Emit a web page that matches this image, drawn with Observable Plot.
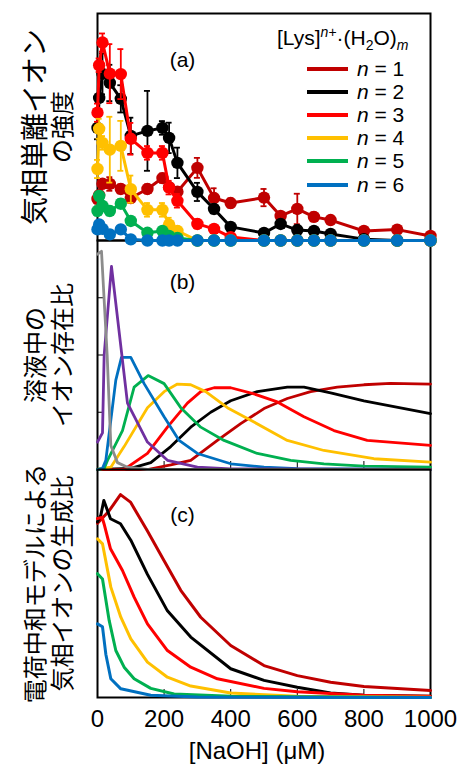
<!DOCTYPE html>
<html><head><meta charset="utf-8">
<script src="https://cdn.jsdelivr.net/npm/d3@7"></script>
<script src="https://cdn.jsdelivr.net/npm/@observablehq/plot@0.6"></script>
<style>
body{margin:0;background:#fff;}
#chart{position:relative;width:463px;height:767px;font-family:"Liberation Sans",Arial,sans-serif;}
#chart svg{position:absolute;left:0;overflow:visible;}
.leg{position:absolute;font-size:21px;color:#000;white-space:nowrap;line-height:21px;}
.sw{position:absolute;height:4px;}
</style></head><body><div id="chart"></div>
<script>
// ---------- shared ----------
const seriesNames = ["1","2","3","4","5","6"];
const seriesColors = ["#C00000","#000000","#FF0000","#FFC000","#00B050","#0070C0"];
const color7 = "#7030A0";
const color8 = "#8C8C8C";
const xTicks = [0,200,400,600,800,1000];
const xLabel = "[NaOH] (μM)";
const yLabelA1 = "気相単離イオン";
const yLabelA2 = "の強度";
const yLabelB = "溶液中の\nイオン存在比";
const yLabelC = "電荷中和モデルによる\n気相イオンの生成比";
const yTicksB = [0.25,0.5,0.75];

// ---------- panel (a): measured intensity ----------
const concA = [0,5,15,37,70,100,150,195,215,240,300,350,400,500,550,600,650,700,800,900,1000];
const a1 = [18.3,20,25,24.9,22.7,18.7,22.7,27.5,23.5,21.5,32,18.7,16.5,18.9,10.8,13.9,10.4,9.0,4.2,4.8,2.0];
const a2 = [49.6,62.8,73.4,69.4,62.4,46.1,48.3,49.6,45.2,34.2,21.4,13.9,6.0,3.3,7.3,4.6,4.2,2.9,0.6,0,0];
const a3 = [56.3,77.2,87.2,73.5,73.3,44.8,38.6,38.6,23.3,17.5,7.3,5.1,1.5,0,0,0,0,0,0,0,0];
const a4 = [31.5,49.2,43,40,41.7,22.6,13.5,13.5,7,4.2,0,0,0,0,0,0,0,0,0,0,0];
const a5 = [13.0,19.6,15.2,13.0,16.2,8.6,3.4,4.2,2.0,1.1,0,0,0,0,0,0,0,0,0,0,0];
const a6 = [4.9,7.1,5.1,2.7,4.9,0.5,0,0,0,0,0,0,0,0,0,0,0,0,0,0,0];
const e1 = [2,0,2,3,2,2,2,2,2,0,4.4,4.3,2,3.8,1.5,6.7,2,1.5,1,1,1];
const e2 = [5,0,9,8,6,8,17.6,3,6.7,6.7,4,2,1.5,1,1.5,1,1,0.5,0,0,0];
const e3 = [4,3,4,13,11,7,3,3,3,3,2,1,0.5,0,0,0,0,0,0,0,0];
const e4 = [4,4.4,3,14.5,11,6,3,3,3,2,0,0,0,0,0,0,0,0,0,0,0];
const e5 = [2,2,2,2,2,1.5,1,1,1,0.5,0,0,0,0,0,0,0,0,0,0,0];
const e6 = [1,1,1,1,1,0.5,0,0,0,0,0,0,0,0,0,0,0,0,0,0,0];

// ---------- panel (b): solution abundance ----------
const b1x = [0,150,220,280,360,430,500,570,640,720,800,880,1000];
const b1y = [0,0,0.02,0.04,0.127,0.2,0.266,0.31,0.34,0.36,0.37,0.376,0.373];
const b2x = [0,100,160,220,280,340,400,480,570,620,700,800,1000];
const b2y = [0,0.005,0.03,0.1,0.185,0.25,0.3,0.34,0.36,0.36,0.335,0.3,0.244];
const b3x = [0,80,150,210,270,310,350,400,470,540,620,710,810,1000];
const b3y = [0,0,0.07,0.185,0.29,0.34,0.357,0.357,0.33,0.295,0.23,0.17,0.127,0.105];
const b4x = [0,40,80,150,200,240,280,325,390,470,570,680,830,1000];
const b4y = [0,0.01,0.1,0.27,0.34,0.373,0.37,0.34,0.27,0.207,0.127,0.083,0.047,0.032];
const b5x = [0,20,30,75,110,152,200,250,310,380,480,580,680,800,1000];
const b5y = [0,0.005,0.04,0.17,0.36,0.41,0.375,0.27,0.185,0.127,0.07,0.04,0.025,0.015,0.01];
const b6x = [0,15,25,55,72,100,140,200,245,300,400,500,600,1000];
const b6y = [0,0.005,0.04,0.39,0.49,0.49,0.375,0.23,0.127,0.07,0.025,0.01,0.004,0];
const b7x = [0,15,20,42,90,150,210,300,400,1000];
const b7y = [0.12,0.16,0.5,0.887,0.29,0.12,0.04,0.01,0.003,0];
const b8x = [0,12,29,40,60,90,150,1000];
const b8y = [0.94,0.953,0.5,0.105,0.03,0.01,0,0];

// ---------- panel (c): charge-neutralization model ----------
const c1x = [0,34,69,99,150,200,250,310,400,500,600,700,800,1000];
const c1y = [0.764,0.817,0.89,0.857,0.73,0.6,0.47,0.352,0.228,0.14,0.096,0.067,0.048,0.031];
const c2x = [0,10,19,39,69,100,150,210,280,400,500,600,700,800,1000];
const c2y = [0.77,0.8,0.864,0.784,0.762,0.69,0.54,0.38,0.265,0.126,0.075,0.045,0.02,0.01,0.005];
const c3x = [0,14,20,39,75,110,150,210,280,360,500,600,800,1000];
const c3y = [0.785,0.79,0.76,0.652,0.557,0.44,0.323,0.206,0.133,0.082,0.04,0.025,0.01,0.005];
const c4x = [0,15,40,70,100,150,210,280,400,600,1000];
const c4y = [0.696,0.674,0.484,0.352,0.257,0.155,0.089,0.05,0.02,0.005,0.001];
const c5x = [0,15,35,55,80,110,160,230,400,1000];
const c5y = [0.543,0.52,0.338,0.206,0.133,0.082,0.04,0.015,0.005,0];
const c6x = [0,15,25,40,70,160,300,1000];
const c6y = [0.323,0.31,0.19,0.082,0.038,0.01,0.002,0];

// ---------- helpers ----------
const rows = (xs, ys, es) => xs.map((x, i) => ({x, y: ys[i], e: es ? es[i] : 0}));
const FONT = "Liberation Sans, Arial, sans-serif";
const JP = "Noto Sans CJK JP, sans-serif";
const W = 463, ML = 97, MR = 33;

function frameMarks() {
  return [
    Plot.frame({stroke: "black", strokeWidth: 2}),
    Plot.axisX(xTicks, {tickSize: -8, tickFormat: () => "", label: null, stroke: "black", strokeWidth: 1})
  ];
}
function yTitle(label, dx = -48.5, fontSize = 24) {
  return Plot.text([label], {frameAnchor: "left", dx, rotate: -90, textAnchor: "middle", lineAnchor: "middle",
    fontSize, lineHeight: 1.12, fontFamily: JP, fill: "black"});
}
function panelTag(tag, dy) {
  return Plot.text([tag], {frameAnchor: "top-left", dx: 85, dy, textAnchor: "middle", lineAnchor: "middle",
    fontSize: 21, fontFamily: FONT, fill: "black"});
}

const chart = document.getElementById("chart");

// panel (b)
const bSeries = [[b1x,b1y,seriesColors[0]],[b2x,b2y,seriesColors[1]],[b3x,b3y,seriesColors[2]],[b4x,b4y,seriesColors[3]],
  [b5x,b5y,seriesColors[4]],[b6x,b6y,seriesColors[5]],[b7x,b7y,color7],[b8x,b8y,color8]];
const plotB = Plot.plot({
  width: W, height: 229, marginLeft: ML, marginRight: MR, marginTop: 0, marginBottom: 0,
  x: {domain: [0,1000], axis: null}, y: {domain: [0,1], axis: null},
  style: {overflow: "visible", fontFamily: FONT, background: "transparent"},
  marks: [
    ...frameMarks(),
    Plot.axisY(yTicksB, {tickSize: -6, tickFormat: () => "", label: null, stroke: "black", strokeWidth: 1}),
    ...bSeries.map(([xs, ys, c]) => Plot.line(rows(xs, ys), {x: "x", y: "y", stroke: c, strokeWidth: 2.8, strokeLinejoin: "round"})),
    panelTag("(b)", 42),
    yTitle(yLabelB)
  ]
});
plotB.style.top = "240px";
chart.appendChild(plotB);

// panel (c)
const cSeries = [[c1x,c1y],[c2x,c2y],[c3x,c3y],[c4x,c4y],[c5x,c5y],[c6x,c6y]];
const plotC = Plot.plot({
  width: W, height: 298, marginLeft: ML, marginRight: MR, marginTop: 0, marginBottom: 70,
  x: {domain: [0,1000], axis: null}, y: {domain: [0,1], axis: null},
  style: {overflow: "visible", fontFamily: FONT, background: "transparent"},
  marks: [
    ...frameMarks(),
    Plot.axisX(xTicks, {tickSize: 0, tickPadding: 12, tickFormat: d => String(d), label: null, fontSize: 24, fontFamily: FONT, fill: "black"}),
    Plot.text([xLabel], {frameAnchor: "bottom", dx: -7, dy: 54, lineAnchor: "middle", fontSize: 24, fontFamily: FONT, fill: "black"}),
    ...cSeries.map(([xs, ys], i) => Plot.line(rows(xs, ys), {x: "x", y: "y", stroke: seriesColors[i], strokeWidth: 3, strokeLinejoin: "round"})),
    panelTag("(c)", 46),
    yTitle(yLabelC)
  ]
});
plotC.style.top = "469px";
chart.appendChild(plotC);

// panel (a)
const aSeries = [[a1,e1],[a2,e2],[a3,e3],[a4,e4],[a5,e5],[a6,e6]];
const aMarks = [...frameMarks()];
aSeries.forEach(([ys, es], i) => {
  const c = seriesColors[i];
  const d = rows(concA, ys, es);
  const de = d.filter(r => r.e > 0);
  aMarks.push(
    Plot.line(d, {x: "x", y: "y", stroke: c, strokeWidth: 3, strokeLinejoin: "round"}),
    Plot.ruleX(de, {x: "x", y1: r => r.y - r.e, y2: r => r.y + r.e, stroke: c, strokeWidth: 1.8}),
    Plot.ruleY(de, {y: r => r.y + r.e, x1: "x", x2: "x", insetLeft: -3, insetRight: -3, stroke: c, strokeWidth: 1.8}),
    Plot.ruleY(de, {y: r => r.y - r.e, x1: "x", x2: "x", insetLeft: -3, insetRight: -3, stroke: c, strokeWidth: 1.8}),
    Plot.dot(d, {x: "x", y: "y", r: 6.2, fill: c, stroke: "none"})
  );
});
aMarks.push(panelTag("(a)", 47), yTitle(yLabelA1, -63, 28), yTitle(yLabelA2, -35, 24));
const plotA = Plot.plot({
  width: W, height: 241, marginLeft: ML, marginRight: MR, marginTop: 13, marginBottom: 1,
  x: {domain: [0,1000], axis: null}, y: {domain: [0,100], axis: null},
  style: {overflow: "visible", fontFamily: FONT, background: "transparent"},
  marks: aMarks
});
plotA.style.top = "0px";
chart.appendChild(plotA);

// legend (HTML overlay inside panel a)
const title = document.createElement("div");
title.className = "leg";
title.style.left = "277px"; title.style.top = "22px";
title.innerHTML = '[Lys]<sup style="font-size:14px;vertical-align:8px"><i>n</i>+</sup>·(H<sub style="font-size:14px;vertical-align:-5px">2</sub>O)<sub style="font-size:14px;vertical-align:-5px"><i>m</i></sub>';
chart.appendChild(title);
seriesNames.forEach((n, i) => {
  const cy = 68.5 + i * 23.2;
  const sw = document.createElement("div");
  sw.className = "sw";
  sw.style.left = "307px"; sw.style.width = "41px"; sw.style.top = (cy - 2) + "px";
  sw.style.background = seriesColors[i];
  chart.appendChild(sw);
  const t = document.createElement("div");
  t.className = "leg";
  t.style.left = "357px"; t.style.top = (cy - 11) + "px";
  t.innerHTML = "<i>n</i> = " + n;
  chart.appendChild(t);
});
</script></body></html>
